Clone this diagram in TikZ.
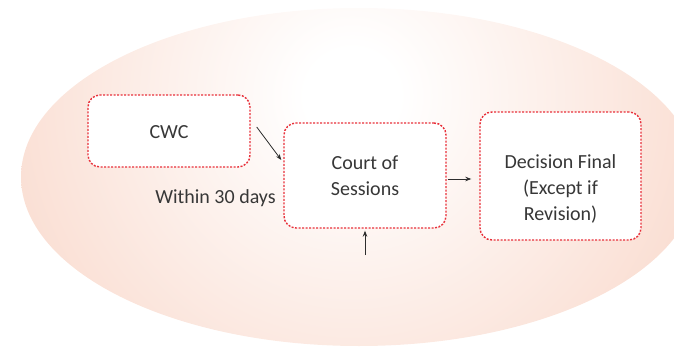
\documentclass[tikz,border=0pt]{standalone}
\usepackage{fontspec}
\setmainfont{Carlito}
\usetikzlibrary{arrows.meta}
\definecolor{peach}{RGB}{248,209,193}
\definecolor{boxred}{RGB}{232,48,58}
\definecolor{txt}{RGB}{55,55,55}
\definecolor{arrc}{RGB}{45,45,45}
\pgfdeclareradialshading{bgshade}{\pgfpoint{0bp}{0bp}}{color(0bp)=(white); color(3bp)=(white); color(31bp)=(peach); color(50bp)=(peach)}
\tikzset{
  stepbox/.style={draw=boxred, line width=1.4pt, dash pattern=on 2pt off 1.5pt, fill=white, rounded corners=12pt, inner sep=0pt},
  lbl/.style={text=txt, font=\fontsize{20}{26}\selectfont, align=center},
  arr/.style={draw=arrc, line width=0.8pt, -{Stealth[length=6pt,width=4.5pt]}}
}
\begin{document}
\begin{tikzpicture}[x=1pt,y=1pt]
\useasboundingbox (0,0) rectangle (674,346);
\begin{scope}
  \clip (359,169) ellipse [x radius=338, y radius=169];
  \shade[shading=bgshade] (352,250) circle (390);
\end{scope}
\node[stepbox, minimum width=162pt, minimum height=72pt] (cwc) at (169,215) {};
\node[lbl] (cwct) at (169,214) {CWC};
\node[stepbox, minimum width=162pt, minimum height=105pt] (court) at (365,170.5) {};
\node[lbl] (courtt) at (365,170) {Court of\\Sessions};
\node[stepbox, minimum width=161pt, minimum height=128pt] (dec) at (560.5,170) {};
\node[lbl] (dect) at (560.5,157) {Decision Final\\(Except if\\Revision)};
\node[lbl, anchor=base] (within) at (215.5,143) {Within 30 days};
\coordinate (below) at (365,91);
\draw[arr] ([xshift=6pt,yshift=4pt]cwc.east) -- ([xshift=-2pt,yshift=15.5pt]court.west);
\draw[arr] ([xshift=1pt,yshift=-3.5pt]court.east) -- ([xshift=-8pt,yshift=-3pt]dec.west);
\draw[arr] (below) -- ([yshift=-2pt]court.south);
\end{tikzpicture}
\end{document}
